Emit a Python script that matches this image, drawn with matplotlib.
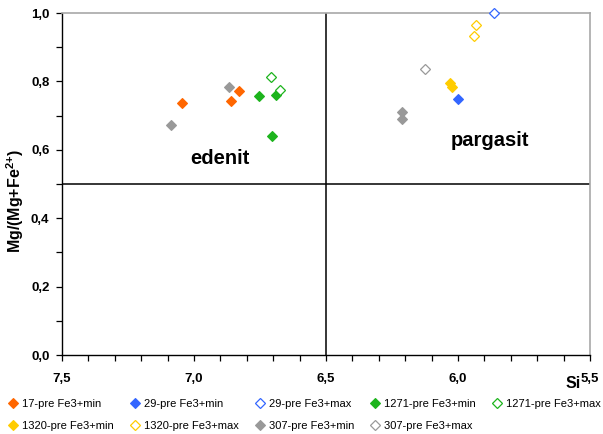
import matplotlib.pyplot as plt
from matplotlib.ticker import MultipleLocator, FuncFormatter

plt.rcParams['font.family'] = ['Liberation Sans', 'DejaVu Sans']
plt.rcParams['mathtext.fontset'] = 'custom'
plt.rcParams['mathtext.bf'] = 'Liberation Sans:bold'
plt.rcParams['mathtext.rm'] = 'Liberation Sans:bold'

# Si vs Mg/(Mg+Fe2+) for each sample and Fe3+ estimate
s17_min_si = [7.047, 6.860, 6.830]
s17_min_mg = [0.736, 0.743, 0.772]

s29_min_si = [5.999]
s29_min_mg = [0.748]
s29_max_si = [5.862]
s29_max_mg = [1.000]

s1271_min_si = [6.754, 6.689, 6.703]
s1271_min_mg = [0.757, 0.760, 0.639]
s1271_max_si = [6.707, 6.674]
s1271_max_mg = [0.814, 0.775]

s1320_min_si = [6.030, 6.024]
s1320_min_mg = [0.794, 0.783]
s1320_max_si = [5.931, 5.938]
s1320_max_mg = [0.965, 0.933]

s307_min_si = [6.866, 7.087, 6.213, 6.213]
s307_min_mg = [0.785, 0.673, 0.711, 0.690]
s307_max_si = [6.125]
s307_max_mg = [0.836]

fig = plt.figure(figsize=(6.03, 4.34), dpi=100)
ax = fig.add_axes([0.1028, 0.182, 0.8756, 0.788])

series = [
    ('17-pre Fe3+min', s17_min_si, s17_min_mg, '#FF6600', True),
    ('29-pre Fe3+min', s29_min_si, s29_min_mg, '#3366FF', True),
    ('29-pre Fe3+max', s29_max_si, s29_max_mg, '#3366FF', False),
    ('1271-pre Fe3+min', s1271_min_si, s1271_min_mg, '#1DB41D', True),
    ('1271-pre Fe3+max', s1271_max_si, s1271_max_mg, '#1DB41D', False),
    ('1320-pre Fe3+min', s1320_min_si, s1320_min_mg, '#FFCC00', True),
    ('1320-pre Fe3+max', s1320_max_si, s1320_max_mg, '#FFCC00', False),
    ('307-pre Fe3+min', s307_min_si, s307_min_mg, '#999999', True),
    ('307-pre Fe3+max', s307_max_si, s307_max_mg, '#999999', False),
]

handles = {}
for label, xs, ys, col, filled in series:
    h, = ax.plot(xs, ys, ls='none', marker='D', ms=5.5,
                 mfc=col if filled else 'white', mec=col,
                 mew=0.8 if filled else 0.9, label=label, clip_on=False, zorder=3)
    handles[label] = h

ax.axhline(0.5, color='black', lw=1.1, zorder=2)
ax.axvline(6.5, color='black', lw=1.1, zorder=2)

ax.set_xlim(7.5, 5.5)
ax.set_ylim(0, 1.0)
ax.xaxis.set_major_locator(MultipleLocator(0.5))
ax.xaxis.set_minor_locator(MultipleLocator(0.1))
ax.yaxis.set_major_locator(MultipleLocator(0.2))
ax.yaxis.set_minor_locator(MultipleLocator(0.1))
comma = FuncFormatter(lambda v, p: f'{v:.1f}'.replace('.', ','))
ax.xaxis.set_major_formatter(comma)
ax.yaxis.set_major_formatter(comma)
ax.tick_params(which='both', direction='out', length=4, width=0.9, labelsize=9.5)
ax.tick_params(axis='x', pad=9)
ax.tick_params(axis='y', pad=5)
for lbl in ax.get_xticklabels() + ax.get_yticklabels():
    lbl.set_fontweight('bold')

for side in ('top', 'right'):
    ax.spines[side].set_color('#A8A8A8')
    ax.spines[side].set_linewidth(1.2)
for side in ('left', 'bottom'):
    ax.spines[side].set_linewidth(1.0)

ax.text(6.902, 0.576, 'edenit', fontsize=14.5, fontweight='bold', ha='center', va='center')
ax.text(5.879, 0.626, 'pargasit', fontsize=14.5, fontweight='bold', ha='center', va='center')

fig.text(0.963, 0.117, 'Si', fontsize=11.5, fontweight='bold', ha='right', va='center')
ax.set_ylabel(r'Mg/(Mg+Fe$^{\mathbf{2{+}}}$)', fontsize=11.5, fontweight='bold')
ax.yaxis.set_label_coords(-0.068, 0.45)

# legend laid out row by row, matplotlib fills columns first
order = ['17-pre Fe3+min', '1320-pre Fe3+min', '29-pre Fe3+min', '1320-pre Fe3+max',
         '29-pre Fe3+max', '307-pre Fe3+min', '1271-pre Fe3+min', '307-pre Fe3+max',
         '1271-pre Fe3+max']
fig.legend([handles[k] for k in order], order, loc='upper left',
           bbox_to_anchor=(0.006, 0.092), ncol=5, frameon=False,
           fontsize=8, handlelength=0.9, handletextpad=0.35, markerscale=0.85,
           columnspacing=1.45, labelspacing=1.15, borderaxespad=0)

fig.savefig('out.png', dpi=100)
